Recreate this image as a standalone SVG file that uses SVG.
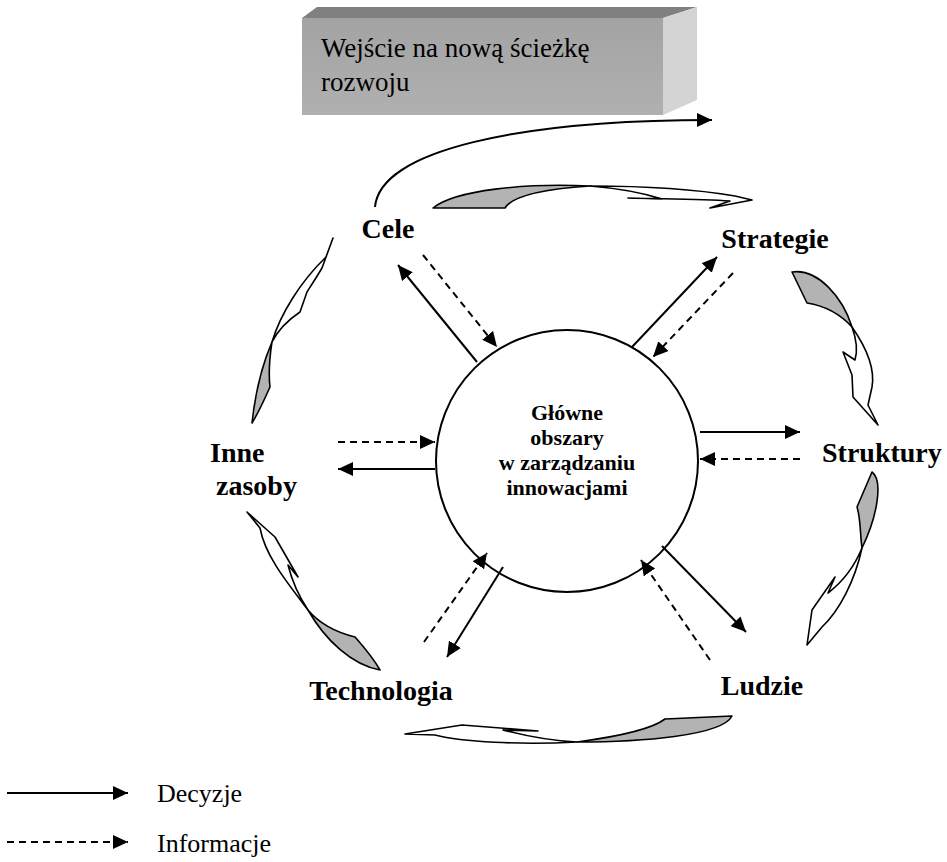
<svg xmlns="http://www.w3.org/2000/svg" width="947" height="862" viewBox="0 0 947 862">
<defs>
<style>
.lbl{font-family:"Liberation Serif","Times New Roman",serif;font-weight:bold;font-size:28px;fill:#000}
.ctr{font-family:"Liberation Serif","Times New Roman",serif;font-weight:bold;font-size:22px;fill:#000;text-anchor:middle}
.reg{font-family:"Liberation Serif","Times New Roman",serif;font-size:26px;fill:#000}
.sol{stroke:#000;stroke-width:2;fill:none;marker-end:url(#ah)}
.das{stroke:#000;stroke-width:2;fill:none;stroke-dasharray:7,5;marker-end:url(#ah)}
.bw{fill:#fff;stroke:#000;stroke-width:1.6;stroke-linejoin:round}
.bg{fill:#b3b3b3;stroke:#000;stroke-width:1.6;stroke-linejoin:round}
</style>
<marker id="ah" markerUnits="userSpaceOnUse" markerWidth="16" markerHeight="14" refX="15" refY="7" orient="auto" viewBox="0 0 16 14">
<path d="M0,0 L15,7 L0,14 Z" fill="#000"/>
</marker>
<linearGradient id="front" x1="0" y1="0" x2="0" y2="1">
<stop offset="0" stop-color="#a3a3a3"/>
<stop offset="1" stop-color="#b0b0b0"/>
</linearGradient>
</defs>
<rect width="947" height="862" fill="#fff"/>

<g id="box">
<polygon points="302,18 317,7 697,7 663,18" fill="#808080"/>
<polygon points="663,18 697,7 697,100 663,115" fill="#d4d4d4"/>
<rect x="302" y="18" width="361" height="97" fill="url(#front)"/>
<text class="reg" x="321" y="57" style="font-size:27px">Wejście na nową ścieżkę</text>
<text class="reg" x="321" y="91" style="font-size:27px">rozwoju</text>
</g>

<g id="center">
<circle cx="567" cy="461" r="131" fill="#fff" stroke="#000" stroke-width="2"/>
<text class="ctr" x="567" y="420">Główne</text>
<text class="ctr" x="567" y="445">obszary</text>
<text class="ctr" x="567" y="470">w zarządzaniu</text>
<text class="ctr" x="567" y="495">innowacjami</text>
</g>

<g id="cele"><text class="lbl" x="388" y="238" text-anchor="middle">Cele</text></g>
<g id="strategie"><text class="lbl" x="775" y="248" text-anchor="middle">Strategie</text></g>
<g id="struktury"><text class="lbl" x="822" y="462">Struktury</text></g>
<g id="ludzie"><text class="lbl" x="762" y="695" text-anchor="middle">Ludzie</text></g>
<g id="technologia"><text class="lbl" x="381" y="700" text-anchor="middle">Technologia</text></g>
<g id="inne"><text class="lbl" x="210" y="462">Inne</text><text class="lbl" x="216" y="495">zasoby</text></g>

<g id="connectors">
<path class="sol" d="M375,207 C380,150 520,120 712,120"/>
<line class="sol" x1="477" y1="362" x2="398" y2="265"/>
<line class="das" x1="423" y1="255" x2="497" y2="347"/>
<line class="sol" x1="632" y1="347" x2="717" y2="257"/>
<line class="das" x1="733" y1="273" x2="653" y2="357"/>
<line class="das" x1="338" y1="442" x2="435" y2="442"/>
<line class="sol" x1="435" y1="469" x2="338" y2="469"/>
<line class="sol" x1="700" y1="432" x2="800" y2="432"/>
<line class="das" x1="800" y1="459" x2="700" y2="459"/>
<line class="sol" x1="503" y1="567" x2="447" y2="657"/>
<line class="das" x1="424" y1="642" x2="487" y2="553"/>
<line class="sol" x1="662" y1="546" x2="746" y2="632"/>
<line class="das" x1="710" y1="660" x2="641" y2="560"/>

<path class="bg" d="M433,208 C455,190 525,183 590,186 C545,189 512,196 505,208 Z"/>
<path class="bw" d="M590,186 C650,186 700,190 735,196 L752,200 L710,208 L730,201 C700,199 660,199 628,198 L662,199 C640,192 615,188 590,186 Z"/>

<path class="bg" d="M792,272 C818,268 843,298 852,327 C842,316 826,306 807,303 Z"/>
<path class="bw" d="M852,327 C868,350 875,370 872,387 L868,405 L878,425 L853,397 L852,375 L843,352 L855,360 C858,350 856,338 852,327 Z"/>

<path class="bg" d="M872,472 C883,480 878,515 862,548 C860,535 861,520 857,507 Z"/>
<path class="bw" d="M862,548 C855,580 840,610 822,627 L807,645 L812,610 L835,577 L828,593 C845,580 855,565 862,548 Z"/>

<path class="bg" d="M732,716 C722,736 640,742 577,742 C622,736 652,729 665,719 Z"/>
<path class="bw" d="M577,742 C520,745 462,742 435,735 L405,734 L462,725 L538,731 L503,730 C530,737 555,741 577,742 Z"/>

<path class="bg" d="M308,610 C325,640 352,665 380,670 C372,656 362,645 355,637 C335,632 318,622 308,610 Z"/>
<path class="bw" d="M308,610 C285,580 265,555 260,528 L247,512 L275,537 L298,577 L288,565 C293,585 300,598 308,610 Z"/>

<path class="bg" d="M272,342 C262,365 255,395 252,423 C260,410 265,398 270,387 C268,370 270,355 272,342 Z"/>
<path class="bw" d="M272,342 C280,315 300,282 326,257 L333,238 L322,268 C315,280 308,290 307,292 L300,312 C288,320 278,330 272,342 Z"/>
</g>

<g id="legend">
<line class="sol" x1="7" y1="793" x2="128" y2="793"/>
<line class="das" x1="7" y1="842" x2="128" y2="842"/>
<text class="reg" x="157" y="802">Decyzje</text>
<text class="reg" x="157" y="852">Informacje</text>
</g>
</svg>
